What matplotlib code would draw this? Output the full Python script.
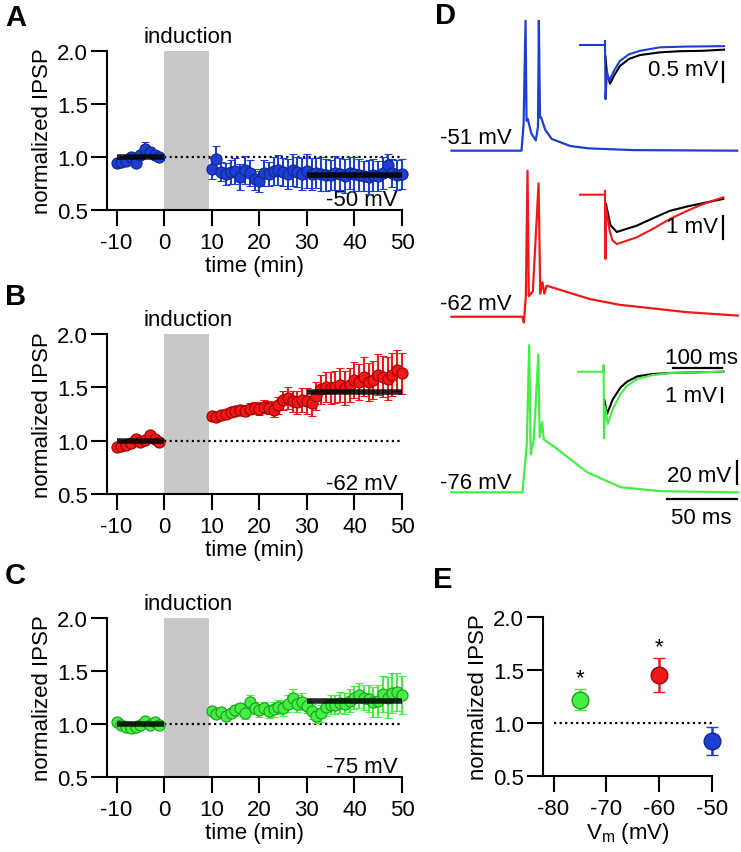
import numpy as np
import matplotlib
matplotlib.use('Agg')
import matplotlib.pyplot as plt

plt.rcParams['font.family'] = ['Liberation Sans', 'DejaVu Sans']
plt.rcParams['mathtext.fontset'] = 'custom'
plt.rcParams['mathtext.rm'] = 'Liberation Sans'
plt.rcParams['mathtext.it'] = 'Liberation Sans'
plt.rcParams['axes.unicode_minus'] = False

W, H = 741, 853
FS = 16

# --- time course data (A-C) ---
pre_t = [-10, -9, -8, -7, -6, -5, -4, -3, -2, -1]
post_t = list(range(10, 51))

a_pre = [0.94, 0.95, 0.96, 1.00, 0.94, 1.02, 1.08, 1.05, 1.02, 1.00]
a_pre_err = [0.03, 0.02, 0.02, 0.03, 0.02, 0.03, 0.06, 0.04, 0.03, 0.02]
a_post = [0.89, 0.98, 0.86, 0.84, 0.86, 0.87, 0.81, 0.88, 0.85, 0.79,
          0.77, 0.85, 0.84, 0.87, 0.88, 0.86, 0.84, 0.88, 0.86, 0.84,
          0.87, 0.84, 0.85, 0.84, 0.83, 0.83, 0.85, 0.84, 0.82, 0.85,
          0.84, 0.83, 0.82, 0.81, 0.83, 0.82, 0.85, 0.92, 0.85, 0.83, 0.84]
a_post_err = [0.10, 0.12, 0.09, 0.10, 0.11, 0.12, 0.12, 0.13, 0.12, 0.10,
              0.10, 0.12, 0.11, 0.13, 0.14, 0.13, 0.14, 0.15, 0.14, 0.15,
              0.16, 0.15, 0.14, 0.16, 0.15, 0.14, 0.16, 0.15, 0.16, 0.15,
              0.16, 0.15, 0.14, 0.16, 0.15, 0.14, 0.15, 0.11, 0.13, 0.14, 0.14]
a_mean_pre, a_mean_post = 1.00, 0.83

b_pre = [0.94, 0.95, 0.96, 0.98, 1.02, 0.99, 1.01, 1.05, 1.02, 0.99]
b_pre_err = [0.02, 0.02, 0.02, 0.02, 0.02, 0.02, 0.02, 0.03, 0.02, 0.02]
b_post = [1.23, 1.22, 1.24, 1.25, 1.27, 1.28, 1.29, 1.28, 1.30, 1.31,
          1.30, 1.32, 1.31, 1.29, 1.33, 1.38, 1.40, 1.37, 1.36, 1.38,
          1.37, 1.35, 1.42, 1.48, 1.50, 1.49, 1.50, 1.52, 1.49, 1.52,
          1.57, 1.55, 1.60, 1.55, 1.57, 1.62, 1.60, 1.58, 1.62, 1.66, 1.63]
b_post_err = [0.03, 0.03, 0.03, 0.03, 0.04, 0.04, 0.04, 0.05, 0.05, 0.05,
              0.06, 0.06, 0.06, 0.07, 0.08, 0.09, 0.10, 0.10, 0.11, 0.11,
              0.12, 0.12, 0.13, 0.14, 0.14, 0.15, 0.15, 0.16, 0.16, 0.16,
              0.17, 0.17, 0.18, 0.18, 0.18, 0.19, 0.19, 0.20, 0.20, 0.19, 0.19]
b_mean_pre, b_mean_post = 1.00, 1.46

c_pre = [1.02, 0.99, 0.97, 0.96, 0.97, 0.99, 1.03, 0.99, 1.02, 0.99]
c_pre_err = [0.02, 0.02, 0.02, 0.02, 0.02, 0.02, 0.02, 0.02, 0.02, 0.02]
c_post = [1.12, 1.09, 1.11, 1.08, 1.10, 1.13, 1.15, 1.10, 1.21, 1.15,
          1.13, 1.15, 1.12, 1.14, 1.16, 1.15, 1.19, 1.25, 1.19, 1.21,
          1.17, 1.12, 1.08, 1.10, 1.16, 1.18, 1.18, 1.20, 1.19, 1.22,
          1.25, 1.27, 1.25, 1.24, 1.21, 1.22, 1.28, 1.25, 1.29, 1.30, 1.27]
c_post_err = [0.03, 0.03, 0.04, 0.04, 0.04, 0.05, 0.05, 0.05, 0.06, 0.06,
              0.06, 0.06, 0.06, 0.07, 0.07, 0.07, 0.08, 0.08, 0.08, 0.08,
              0.07, 0.07, 0.07, 0.08, 0.08, 0.09, 0.09, 0.10, 0.10, 0.11,
              0.11, 0.12, 0.12, 0.13, 0.14, 0.15, 0.17, 0.19, 0.19, 0.18, 0.18]
c_mean_pre, c_mean_post = 1.00, 1.22

# --- example traces (D): time in ms, Vm in mV ---
blue_t = [0, 50, 51.5, 52.9, 53.6, 54.5, 57, 60.2, 61.8, 62.4, 63.2, 64, 67, 71.6, 85, 98, 130, 204]
blue_v = [-51, -51, -28, 62, -25, -23.5, -36, -42, -30, 62, -22, -22, -33, -40.8, -47, -49, -50.5, -51]
red_t = [0, 50.7, 51.7, 53.1, 54.3, 55.2, 58.1, 62.2, 63.4, 65, 66.3, 68, 98.8, 120, 168, 204.5]
red_v = [-62, -62, -67, -44, 65, -44, -40, 54, -42, -32, -42, -35, -46.6, -51.6, -58, -61]
green_t = [0, 50.7, 53.8, 55.5, 56.6, 58.8, 62, 63, 64.8, 65.9, 73, 97, 121, 150, 205]
green_v = [-76, -76, -34, 52, -43, -30, 44, -28, -15, -30, -36, -58.6, -71.6, -75, -76]

# IPSP insets: time in ms, amplitude in mV (colored = after, black = before)
ib_t = [0, 51, 51, 52, 55, 59.8, 70, 81.6, 100, 122.4, 163, 220, 294]
ib_v = [0, 0, 0.11, -1.40, -0.7, -0.92, -0.65, -0.41, -0.24, -0.15, -0.06, -0.04, -0.03]
ib_k_t = [52, 55, 61.2, 70, 81.6, 100, 122.4, 163, 204, 250, 294]
ib_k_v = [-0.3, -0.75, -1.00, -0.78, -0.54, -0.36, -0.26, -0.19, -0.16, -0.15, -0.12]

ir_t = [0, 51, 51, 52, 53, 60, 66, 75, 115.7, 150, 183.7, 220, 251.6, 292.4]
ir_v = [0, 0, 0.17, -2.76, -0.5, -1.5, -1.95, -2.12, -1.83, -1.45, -1.04, -0.68, -0.40, -0.11]
ir_k_t = [53, 62, 75, 115.7, 150, 183.7, 220, 251.6, 292.4]
ir_k_v = [-0.4, -1.3, -1.60, -1.33, -1.00, -0.69, -0.50, -0.36, -0.18]

ig_t = [0, 51.6, 51.6, 52.5, 55, 60, 70, 86.2, 100, 120.7, 150, 189.5, 296]
ig_v = [0, 0, 0.48, -4.76, -2.5, -3.74, -2.7, -1.59, -1.0, -0.52, -0.25, -0.09, 0]
ig_k_t = [53, 58.7, 70, 86.2, 100, 120.7, 150, 189.5, 296]
ig_k_v = [-2.0, -3.02, -2.0, -1.12, -0.7, -0.33, -0.17, -0.09, 0]

# --- summary (E) ---
vm = [-75, -60, -50]
vm_ipsp = [1.22, 1.45, 0.83]
vm_err = [0.10, 0.16, 0.13]
vm_sig = [True, True, False]

BLUE, BLUE_E = '#1d3fd1', '#0f2590'
RED, RED_E = '#f01818', '#a00000'
GREEN, GREEN_E = '#44ee44', '#1c9c1c'
GRAY = '#c8c8c8'

fig = plt.figure(figsize=(W / 100, H / 100), dpi=100)


def px_axes(x0, y0, x1, y1):
    return fig.add_axes([x0 / W, 1 - y1 / H, (x1 - x0) / W, (y1 - y0) / H])


def style_axes(ax):
    for s in ['top', 'right']:
        ax.spines[s].set_visible(False)
    for s in ['left', 'bottom']:
        ax.spines[s].set_linewidth(1.5)
    ax.tick_params(width=1.5, length=11.5, labelsize=FS)
    ax.tick_params(axis='x', pad=4)
    ax.tick_params(axis='y', pad=2)


def time_panel(box, pre, pre_err, post, post_err, m_pre, m_post,
               face, edge, vlabel):
    ax = px_axes(*box)
    style_axes(ax)
    ax.axvspan(0, 9.5, ymin=0, ymax=1, color=GRAY, lw=0, zorder=0)
    ax.plot([0, 50], [1, 1], ls=(0, (1, 1.5)), color='black', lw=1.6, zorder=1)
    ax.text(49, 0.6, vlabel, ha='right', va='center', fontsize=FS, zorder=1)
    for t, y, e in [(pre_t, pre, pre_err), (post_t, post, post_err)]:
        ax.errorbar(t, y, yerr=e, fmt='o', ms=8, mfc=face, mec=edge, mew=0.8,
                    ecolor=face, elinewidth=1.5, capsize=3, capthick=1.5,
                    zorder=3, clip_on=False)
    ax.plot([-10, 0], [m_pre, m_pre], color='black', lw=4, alpha=0.85,
            zorder=5, solid_capstyle='butt')
    ax.plot([30, 50], [m_post, m_post], color='black', lw=4, alpha=0.85,
            zorder=5, solid_capstyle='butt')
    ax.set_xlim(-12, 50)
    ax.set_ylim(0.5, 2.0)
    ax.set_xticks([-10, 0, 10, 20, 30, 40, 50])
    ax.set_yticks([0.5, 1.0, 1.5, 2.0])
    ax.set_yticklabels(['0.5', '1.0', '1.5', '2.0'])
    ax.set_xlabel('time (min)', fontsize=FS, labelpad=2)
    ax.set_ylabel('normalized IPSP', fontsize=FS, labelpad=3)
    ax.text(5, 2.04, 'induction', ha='center', va='bottom', fontsize=FS)
    return ax


time_panel((107, 52, 402, 211), a_pre, a_pre_err, a_post, a_post_err,
           a_mean_pre, a_mean_post, BLUE, BLUE_E, '-50 mV')
time_panel((107, 335, 402, 495), b_pre, b_pre_err, b_post, b_post_err,
           b_mean_pre, b_mean_post, RED, RED_E, '-62 mV')
time_panel((107, 619, 402, 778), c_pre, c_pre_err, c_post, c_post_err,
           c_mean_pre, c_mean_post, GREEN, GREEN_E, '-75 mV')

for letter, x, y in [('A', 5, 18), ('B', 5, 297), ('C', 5, 576), ('D', 435, 16), ('E', 433, 580)]:
    fig.text(x / W, 1 - y / H, letter, fontsize=21, fontweight='bold', va='center', ha='left')

# --- D: main traces ---
axd = px_axes(440, 0, 741, 530)
axd.set_xlim((440 - 451.5) / 1.4, (741 - 451.5) / 1.4)
axd.set_ylim(-530 / 1.15, 0)
axd.axis('off')
for t, v, off, col in [(blue_t, blue_v, -80.9, BLUE), (red_t, red_v, -214.3, RED),
                       (green_t, green_v, -353.0, GREEN)]:
    axd.plot(t, np.array(v) + off, color=col, lw=1.6)
axd.text(43, -120, '-51 mV', ha='right', va='center', fontsize=FS)
axd.text(43, -265.2, '-62 mV', ha='right', va='center', fontsize=FS)
axd.text(43, -420.3, '-76 mV', ha='right', va='center', fontsize=FS)
axd.plot([203.9, 203.9], [-421.7, -401.7], color='black', lw=1.6)
axd.plot([153.7, 203.7], [-434.8, -434.8], color='black', lw=1.6)
axd.text(200, -414.5, '20 mV', ha='right', va='center', fontsize=FS)
axd.text(178.7, -450.7, '50 ms', ha='center', va='center', fontsize=FS)


# --- D: IPSP insets ---
def inset(box, x0px, base_py, ppm, tc, vc, tk, vk, col, bar, label, bar_top_py, bar_bot_py, label_py):
    ax = px_axes(*box)
    ax.set_xlim((box[0] - x0px) / 0.49, (box[2] - x0px) / 0.49)
    ax.set_ylim((base_py - box[3]) / ppm, (base_py - box[1]) / ppm)
    ax.axis('off')
    ax.plot(tk, vk, color='black', lw=1.5)
    ax.plot(tc, vc, color=col, lw=1.5)
    xb = (bar - x0px) / 0.49
    ax.plot([xb, xb], [(base_py - bar_top_py) / ppm, (base_py - bar_bot_py) / ppm],
            color='black', lw=1.6, clip_on=False)
    ax.text(xb - 10, (base_py - label_py) / ppm, label, ha='right', va='center', fontsize=FS)
    return ax


inset((575, 30, 741, 110), 580, 46, 38.7, ib_t, ib_v, ib_k_t, ib_k_v, BLUE,
      723.3, '0.5 mV', 63.3, 82.7, 70.7)
inset((575, 180, 741, 270), 580, 195.7, 23.3, ir_t, ir_v, ir_k_t, ir_k_v, RED,
      722.7, '1 mV', 216.7, 240, 227.3)
axg = inset((575, 345, 741, 445), 578.3, 372.7, 14, ig_t, ig_v, ig_k_t, ig_k_v, GREEN,
            721.7, '1 mV', 389, 403, 396.7)
axg.plot([(673.3 - 578.3) / 0.49, (721.7 - 578.3) / 0.49], [(372.7 - 369) / 14] * 2,
         color='black', lw=1.6, clip_on=False)
axg.text((701.7 - 578.3) / 0.49, (372.7 - 358.5) / 14, '100 ms', ha='center',
         va='center', fontsize=FS)

# --- E: summary ---
axe = px_axes(543, 618, 712, 777)
style_axes(axe)
axe.plot([-80, -50], [1, 1], ls=(0, (1, 1.5)), color='black', lw=1.6, zorder=1)
for x, y, e, sig, face, edge in zip(vm, vm_ipsp, vm_err, vm_sig,
                                    [GREEN, RED, BLUE], [GREEN_E, RED_E, BLUE_E]):
    axe.errorbar([x], [y], yerr=[e], fmt='o', ms=12, mfc=face, mec=edge, mew=1,
                 ecolor=face, elinewidth=1.8, capsize=4, capthick=1.8,
                 zorder=3, clip_on=False)
    if sig:
        axe.text(x, y + e + 0.11, '*', ha='center', va='center', fontsize=FS)
axe.set_xlim(-82, -50)
axe.set_ylim(0.5, 2.0)
axe.set_xticks([-80, -70, -60, -50])
axe.set_yticks([0.5, 1.0, 1.5, 2.0])
axe.set_yticklabels(['0.5', '1.0', '1.5', '2.0'])
axe.set_xlabel(r'V$_\mathrm{m}$ (mV)', fontsize=FS, labelpad=1)
axe.set_ylabel('normalized IPSP', fontsize=FS, labelpad=3)

fig.savefig('out.png', dpi=100)
